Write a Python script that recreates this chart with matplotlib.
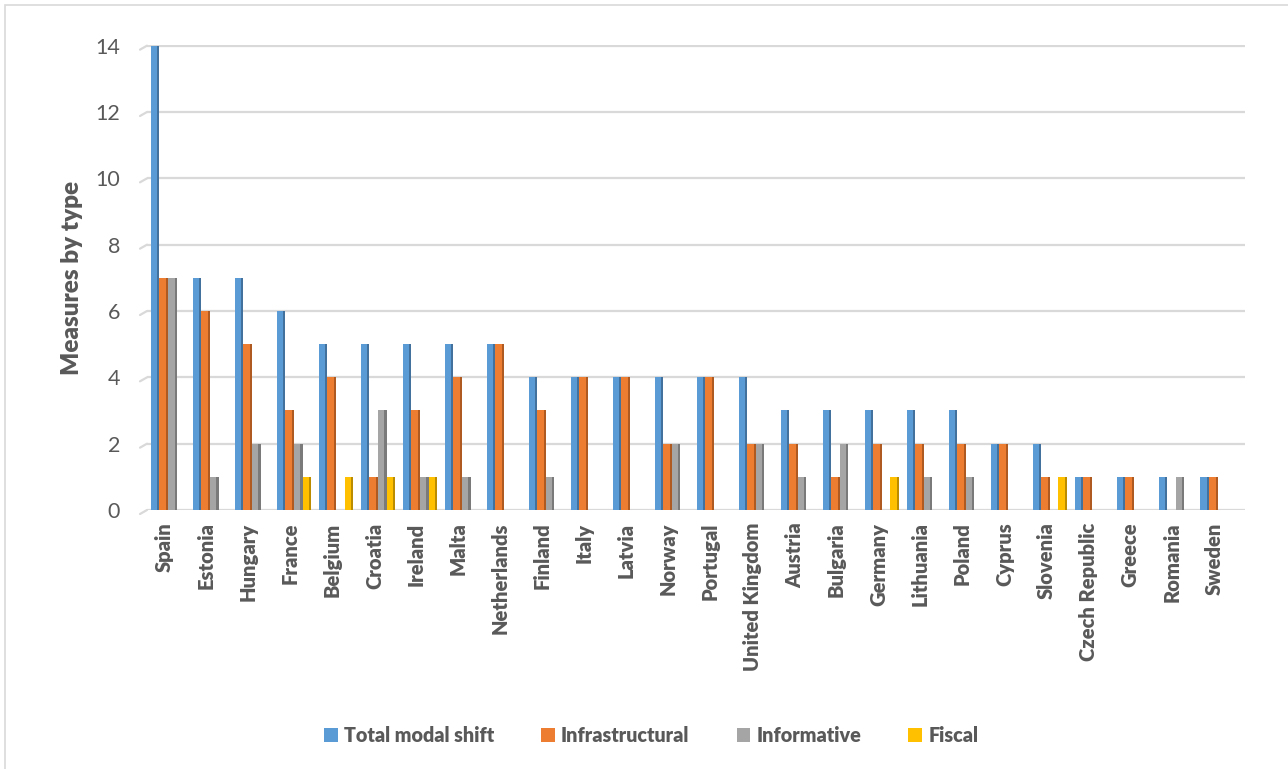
import matplotlib
matplotlib.use("Agg")
import matplotlib.pyplot as plt
from matplotlib.patches import Rectangle, Patch
import numpy as np

plt.rcParams["font.family"] = ["Lato", "DejaVu Sans"]

countries = ["Spain", "Estonia", "Hungary", "France", "Belgium", "Croatia",
             "Ireland", "Malta", "Netherlands", "Finland", "Italy", "Latvia",
             "Norway", "Portugal", "United Kingdom", "Austria", "Bulgaria",
             "Germany", "Lithuania", "Poland", "Cyprus", "Slovenia",
             "Czech Republic", "Greece", "Romania", "Sweden"]

total_modal_shift = [14, 7, 7, 6, 5, 5, 5, 5, 5, 4, 4, 4, 4, 4, 4, 3, 3, 3, 3, 3, 2, 2, 1, 1, 1, 1]
infrastructural   = [7, 6, 5, 3, 4, 1, 3, 4, 5, 3, 4, 4, 2, 4, 2, 2, 1, 2, 2, 2, 2, 1, 1, 1, 0, 1]
informative       = [7, 1, 2, 2, 0, 3, 1, 1, 0, 1, 0, 0, 2, 0, 2, 1, 2, 0, 1, 1, 0, 0, 0, 0, 1, 0]
fiscal            = [0, 0, 0, 1, 1, 1, 1, 0, 0, 0, 0, 0, 0, 0, 0, 0, 0, 1, 0, 0, 0, 1, 0, 0, 0, 0]

series_names = ["Total modal shift", "Infrastructural", "Informative", "Fiscal"]
series_values = [total_modal_shift, infrastructural, informative, fiscal]
face_colors = ["#5B9BD5", "#ED7D31", "#A5A5A5", "#FFC000"]
side_colors = ["#41719C", "#AE5A21", "#7A7A7A", "#BC8C00"]

yticks = [0, 2, 4, 6, 8, 10, 12, 14]
text_color = "#595959"

W, H, DPI = 1288, 769, 100
fig = plt.figure(figsize=(W / DPI, H / DPI), dpi=DPI)
fig.patch.set_facecolor("white")

# outer chart border (only the top and left edges fall inside the image)
fig.add_artist(Rectangle((5 / W, -0.5), 1.5, 1.5 - 5 / H, transform=fig.transFigure,
                         fill=False, edgecolor="#D9D9D9", linewidth=1.2))

left, right, top, bottom = 147, 1245, 45, 510
ax = fig.add_axes([left / W, 1 - bottom / H, (right - left) / W, (bottom - top) / H])

x = np.arange(len(countries))
bw = 0.205
side = 0.05
for k, (vals, fc, sc) in enumerate(zip(series_values, face_colors, side_colors)):
    offs = (k - 1.5) * bw
    vals = np.asarray(vals, dtype=float)
    ax.bar(x + offs, vals, width=bw, color=fc, linewidth=0, zorder=3)
    # darker side face giving the columns their depth
    ax.bar(x + offs + bw / 2 - side / 2, vals, width=side, color=sc,
           linewidth=0, zorder=4)

ax.set_xlim(-0.5, 25.65)
ax.set_ylim(0, 14.02)
ax.set_yticks(yticks)
ax.set_yticklabels([str(t) for t in yticks], fontsize=15.5, color=text_color)
ax.yaxis.grid(True, color="#D9D9D9", linewidth=1.6, zorder=0)
ax.set_axisbelow(True)
ax.tick_params(axis="y", length=0, pad=19.5)
ax.tick_params(axis="x", length=0, pad=9)
ax.set_xticks(x - 0.08)
ax.set_xticklabels(countries, rotation=90, fontsize=14.5, fontweight="heavy",
                   color=text_color, va="top", ha="center")
for s in ax.spines.values():
    s.set_visible(False)

# short slanted stubs at the left end of each gridline
for t in yticks:
    ax.annotate("", xy=(0, t), xycoords=ax.get_yaxis_transform(),
                xytext=(-7, -4), textcoords="offset pixels",
                arrowprops=dict(arrowstyle="-", color="#D9D9D9", lw=1.6,
                                shrinkA=0, shrinkB=0))

ax.set_ylabel("Measures by type", fontsize=17.5, fontweight="heavy",
              color=text_color, labelpad=9)

handles = [Patch(facecolor=c, edgecolor="none") for c in face_colors]
fig.legend(handles, series_names, loc="center", bbox_to_anchor=(651 / W, 1 - 735 / H),
           ncol=4, frameon=False, handlelength=0.7, handleheight=0.7,
           handletextpad=0.3, columnspacing=2.4,
           prop=dict(size=14.2, weight="heavy"), labelcolor=text_color)

fig.savefig("out.png", dpi=DPI, facecolor="white")
